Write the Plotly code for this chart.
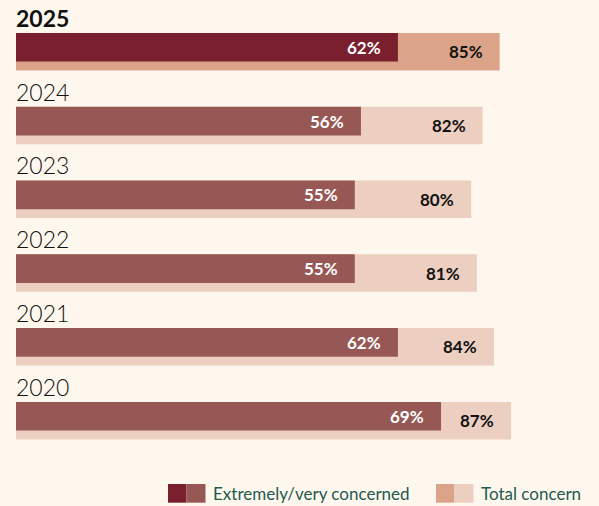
import plotly.graph_objects as go

years = ["2025", "2024", "2023", "2022", "2021", "2020"]
very_concerned = [62, 56, 55, 55, 62, 69]
total_concern = [85, 82, 80, 81, 84, 87]
legend_labels = ["Extremely/very concerned", "Total concern"]

bg = "#fef7ee"
dark_hi, dark_lo = "#7a1f2e", "#975855"
tot_hi, tot_lo = "#dba488", "#edcfc2"

pos = list(range(len(years)))
bar_w = 0.508
dark_w = 0.389

fig = go.Figure()

fig.add_trace(go.Bar(
    y=pos, x=total_concern, orientation="h",
    width=bar_w, offset=-bar_w / 2,
    marker=dict(color=[tot_hi if i == 0 else tot_lo for i in pos], line=dict(width=0)),
    hoverinfo="skip", showlegend=False,
))
fig.add_trace(go.Bar(
    y=pos, x=very_concerned, orientation="h", xaxis="x2",
    width=dark_w, offset=-bar_w / 2,
    marker=dict(color=[dark_hi if i == 0 else dark_lo for i in pos], line=dict(width=0)),
    hoverinfo="skip", showlegend=False,
))

annotations = []
for i, yr in enumerate(years):
    annotations.append(dict(
        x=0, y=i - 0.46, xref="x", yref="y", xanchor="left", yanchor="middle",
        xshift=-2, text=f"<b>{yr}</b>" if i == 0 else yr, showarrow=False,
        font=dict(family="Lato", size=23, color="#111111", weight=700 if i == 0 else 300),
    ))
    annotations.append(dict(
        x=total_concern[i], y=i, xref="x", yref="y", xanchor="right", yanchor="middle",
        xshift=-15, text=f"<b>{total_concern[i]}%</b>", showarrow=False,
        font=dict(family="Lato", size=17, color="#111111"),
    ))
    annotations.append(dict(
        x=very_concerned[i], y=i - bar_w / 2 + dark_w / 2, xref="x2", yref="y",
        xanchor="right", yanchor="middle", xshift=-15,
        text=f"<b>{very_concerned[i]}%</b>", showarrow=False,
        font=dict(family="Lato", size=17, color="#ffffff"),
    ))

# legend drawn by hand: two-tone swatches (paper x starts at the plot's left edge)
def px_x(p):
    return (p - 16) / 583

shapes = []
sy0, sy1 = 1 - 502.7 / 506, 1 - 484 / 506
legend_items = [(168, dark_hi, dark_lo), (436, tot_hi, tot_lo)]
for (x0, c1, c2), lab in zip(legend_items, legend_labels):
    shapes.append(dict(type="rect", xref="paper", yref="paper", x0=px_x(x0), x1=px_x(x0 + 18.5),
                       y0=sy0, y1=sy1, fillcolor=c1, line=dict(width=0), layer="above"))
    shapes.append(dict(type="rect", xref="paper", yref="paper", x0=px_x(x0 + 18.5), x1=px_x(x0 + 37.5),
                       y0=sy0, y1=sy1, fillcolor=c2, line=dict(width=0), layer="above"))
    annotations.append(dict(
        x=px_x(x0 + 43), y=(sy0 + sy1) / 2, xref="paper", yref="paper",
        xanchor="left", yanchor="middle", text=lab, showarrow=False,
        font=dict(family="Lato", size=17, color="#1f5a4f"),
    ))

plot_w = 599 - 16
fig.update_layout(
    width=599, height=506,
    margin=dict(l=16, r=0, t=0, b=0),
    paper_bgcolor=bg, plot_bgcolor=bg,
    barmode="overlay",
    xaxis=dict(range=[0, plot_w / 5.69], visible=False, fixedrange=True),
    xaxis2=dict(range=[0, plot_w / 6.16], overlaying="x", visible=False, fixedrange=True),
    yaxis=dict(range=[-0.7 + 506 / 73.8, -0.7], visible=False, fixedrange=True),
    annotations=annotations,
    shapes=shapes,
)

fig.write_html(
    "out.html",
    config={"displayModeBar": False},
    post_script="document.body.style.margin='0';document.body.style.overflow='hidden';",
)
